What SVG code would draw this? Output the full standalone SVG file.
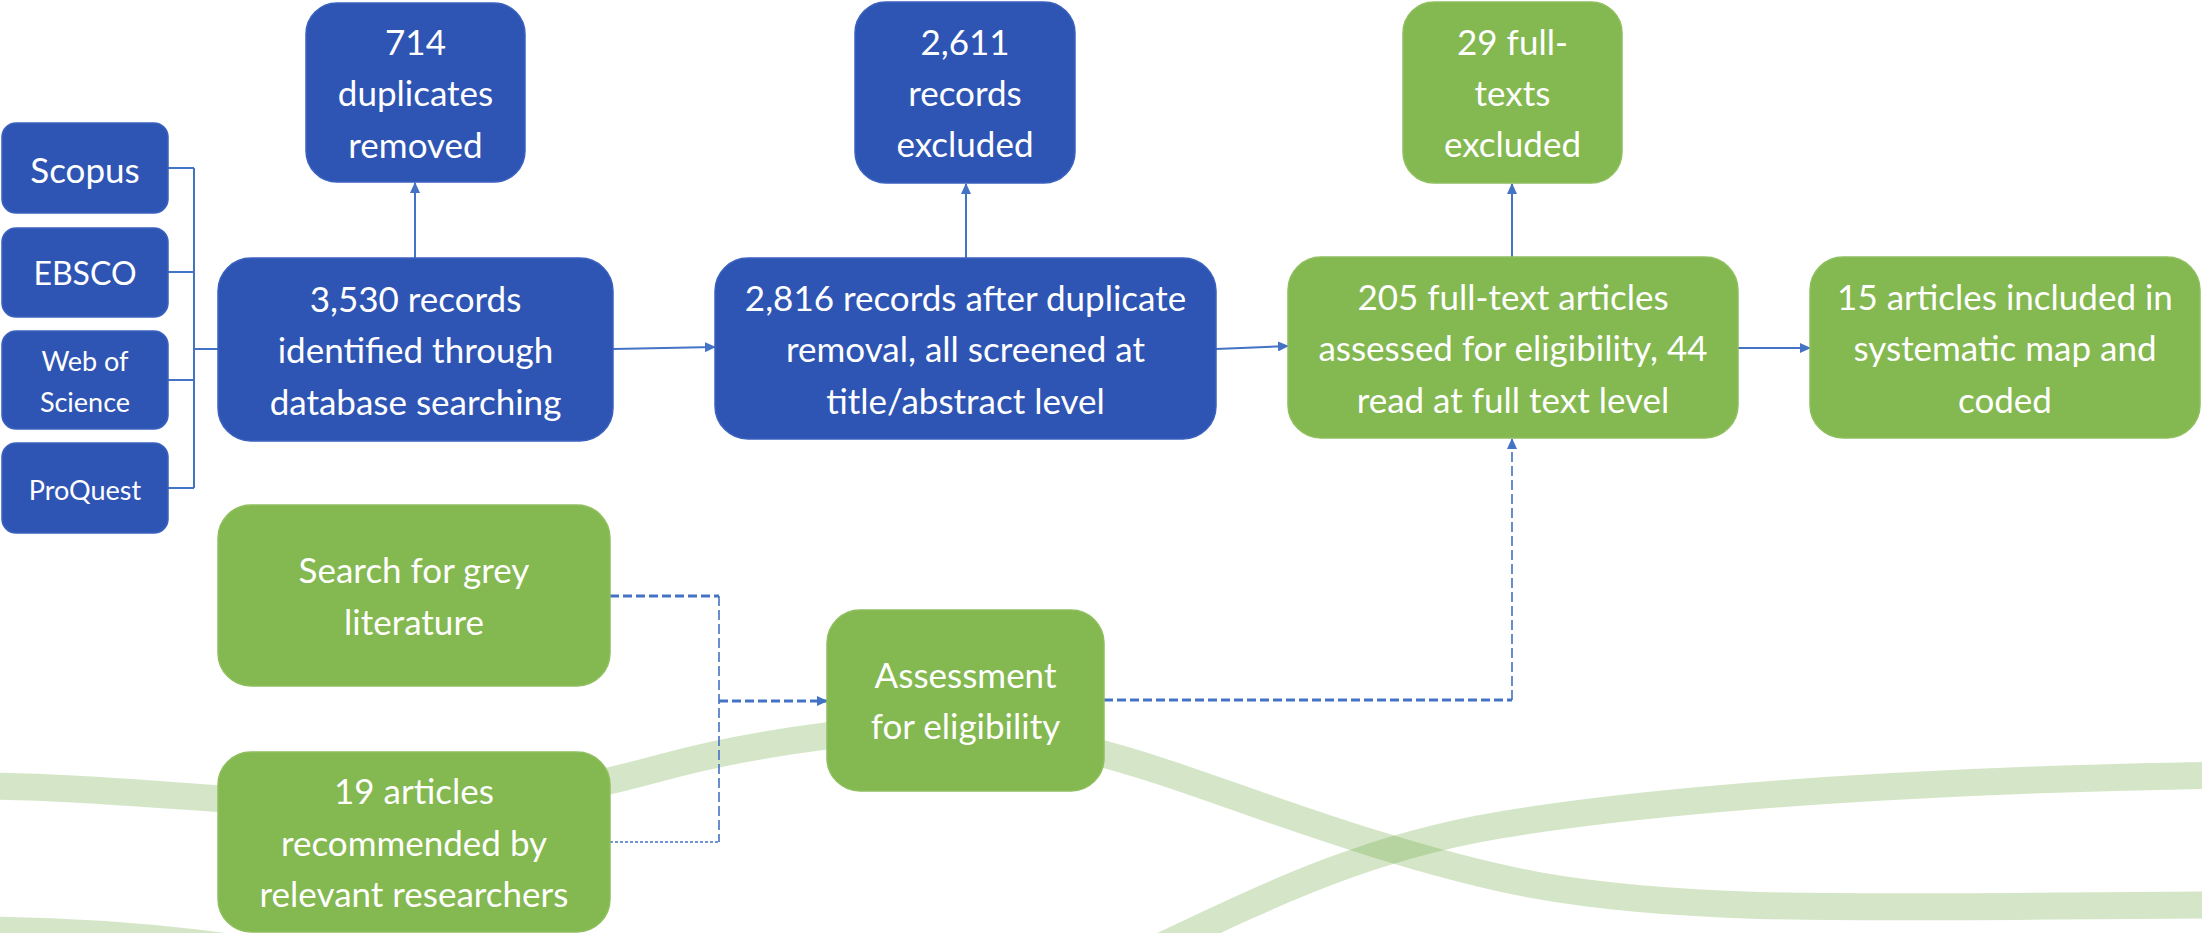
<svg xmlns="http://www.w3.org/2000/svg" width="2202" height="933" viewBox="0 0 2202 933">
<defs>
<style>
.blue{fill:#2F55B4;stroke:#3B62BE;stroke-width:1.5}
.green{fill:#84B850;stroke:#8FBF5E;stroke-width:1.5}
.t{font-family:Lato,"Open Sans","Liberation Sans",sans-serif;fill:#FFFFFF;text-anchor:middle;font-size:35px}
.ts{font-size:27px}
.band{fill:none;stroke:#70AD47;stroke-opacity:0.3;stroke-width:27}
.c{fill:none;stroke:#4472C4;stroke-width:2}
.dh{fill:none;stroke:#4472C4;stroke-width:3;stroke-dasharray:9 4}
.dv{fill:none;stroke:#4472C4;stroke-width:1.6;stroke-dasharray:10 4}
.dd{fill:none;stroke:#4472C4;stroke-width:1.5;stroke-dasharray:3 2}
</style>
<marker id="ah" markerUnits="userSpaceOnUse" markerWidth="11" markerHeight="10" refX="10" refY="5" orient="auto">
<path d="M0,0 L11,5 L0,10 z" fill="#4472C4"/>
</marker>
</defs>
<g id="background">
<path class="band" d="M -20 786 C 100 787, 200 800, 350 806 C 480 811, 560 795, 660 768 C 740 746, 820 735, 900 728 C 980 721, 1080 745, 1160 771 C 1240 797, 1400 860, 1535 885 C 1700 915, 1900 906, 2230 905"/>
<path class="band" d="M -20 930 C 120 931, 260 944, 450 989 C 700 1049, 950 1045, 1100 975 C 1250 905, 1350 850, 1500 825 C 1650 800, 1900 780, 2230 775"/>
</g>
<g id="connectors">
<path class="c" d="M168 168 H194 M168 272 H194 M168 380 H194 M168 488 H194 M194 168 V488 M194 349 H218"/>
<path class="c" d="M415 258 V183" marker-end="url(#ah)"/>
<path class="c" d="M613 349 L715 347" marker-end="url(#ah)"/>
<path class="c" d="M966 258 V184" marker-end="url(#ah)"/>
<path class="c" d="M1216 349 L1288 346" marker-end="url(#ah)"/>
<path class="c" d="M1512 257 V184" marker-end="url(#ah)"/>
<path class="c" d="M1738 348 H1810" marker-end="url(#ah)"/>
<path class="dh" d="M610 596 H719"/>
<path class="dv" d="M719 596 V842"/>
<path class="dd" d="M610 842 H719"/>
<path class="dh" d="M719 701 H827" marker-end="url(#ah)"/>
<path class="dh" d="M1104 700 H1512"/>
<path class="dv" d="M1512 700 V439" marker-end="url(#ah)"/>
</g>
<g id="scopus">
<rect class="blue" x="2" y="123" width="166" height="90" rx="14"/>
<text class="t" x="85" y="183">Scopus</text>
</g>
<g id="ebsco">
<rect class="blue" x="2" y="228" width="166" height="89" rx="14"/>
<text class="t" x="85" y="285" style="font-size:32px">EBSCO</text>
</g>
<g id="wos">
<rect class="blue" x="2" y="331" width="166" height="98" rx="14"/>
<text class="t ts" x="85" y="371">Web of</text>
<text class="t ts" x="85" y="412">Science</text>
</g>
<g id="proquest">
<rect class="blue" x="2" y="443" width="166" height="90" rx="14"/>
<text class="t ts" x="85" y="500">ProQuest</text>
</g>
<g id="identified">
<rect class="blue" x="218" y="258" width="395" height="183" rx="33"/>
<text class="t" x="415.5" y="312">3,530 records</text>
<text class="t" x="415.5" y="363">identified through</text>
<text class="t" x="415.5" y="415">database searching</text>
</g>
<g id="duplicates">
<rect class="blue" x="306" y="3" width="219" height="179" rx="31"/>
<text class="t" x="415.5" y="55">714</text>
<text class="t" x="415.5" y="106">duplicates</text>
<text class="t" x="415.5" y="158">removed</text>
</g>
<g id="screened">
<rect class="blue" x="715" y="258" width="501" height="181" rx="33"/>
<text class="t" x="965.5" y="311">2,816 records after duplicate</text>
<text class="t" x="965.5" y="362">removal, all screened at</text>
<text class="t" x="965.5" y="414">title/abstract level</text>
</g>
<g id="excluded">
<rect class="blue" x="855" y="2" width="220" height="181" rx="31"/>
<text class="t" x="965" y="55">2,611</text>
<text class="t" x="965" y="106">records</text>
<text class="t" x="965" y="157">excluded</text>
</g>
<g id="fulltext">
<rect class="green" x="1288" y="257" width="450" height="181" rx="33"/>
<text class="t" x="1513" y="310">205 full-text articles</text>
<text class="t" x="1513" y="361">assessed for eligibility, 44</text>
<text class="t" x="1513" y="413">read at full text level</text>
</g>
<g id="ftexcluded">
<rect class="green" x="1403" y="2" width="219" height="181" rx="31"/>
<text class="t" x="1512.5" y="55">29 full-</text>
<text class="t" x="1512.5" y="106">texts</text>
<text class="t" x="1512.5" y="157">excluded</text>
</g>
<g id="included">
<rect class="green" x="1810" y="257" width="390" height="181" rx="33"/>
<text class="t" x="2005" y="310">15 articles included in</text>
<text class="t" x="2005" y="361">systematic map and</text>
<text class="t" x="2005" y="413">coded</text>
</g>
<g id="grey">
<rect class="green" x="218" y="505" width="392" height="181" rx="33"/>
<text class="t" x="414" y="583">Search for grey</text>
<text class="t" x="414" y="635">literature</text>
</g>
<g id="recommended">
<rect class="green" x="218" y="752" width="392" height="180" rx="33"/>
<text class="t" x="414" y="804">19 articles</text>
<text class="t" x="414" y="856">recommended by</text>
<text class="t" x="414" y="907">relevant researchers</text>
</g>
<g id="assessment">
<rect class="green" x="827" y="610" width="277" height="181" rx="33"/>
<text class="t" x="965.5" y="688">Assessment</text>
<text class="t" x="965.5" y="739">for eligibility</text>
</g>
</svg>
